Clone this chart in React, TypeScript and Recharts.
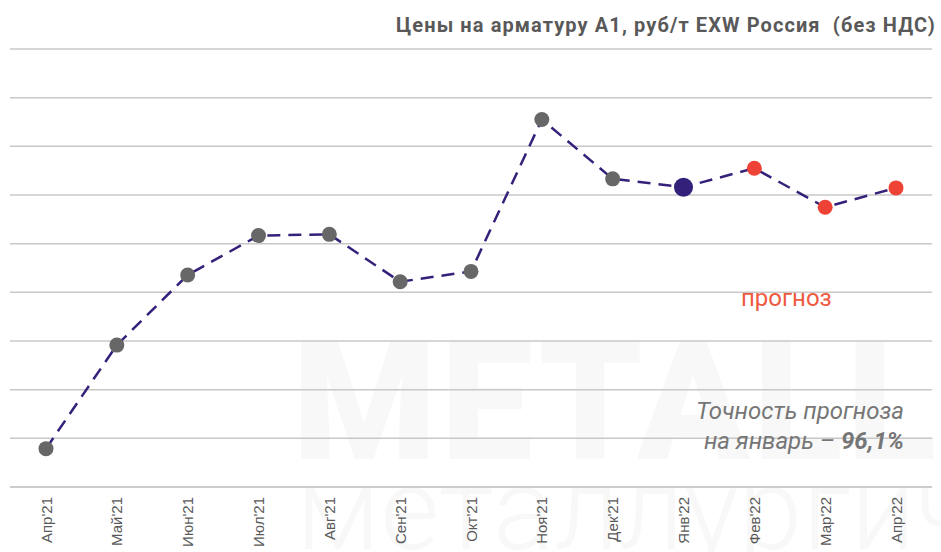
import { CartesianGrid, Line, LineChart, XAxis, YAxis } from 'recharts'

const months = [
  "Апр'21", "Май'21", "Июн'21", "Июл'21", "Авг'21", "Сен'21", "Окт'21",
  "Ноя'21", "Дек'21", "Янв'22", "Фев'22", "Мар'22", "Апр'22",
]
const prices = [48940, 59580, 66780, 70830, 70960, 66090, 67150, 82760, 76660, 75800, 77750, 73740, 75730]
// fact / current month / forecast
const kinds = ['fact', 'fact', 'fact', 'fact', 'fact', 'fact', 'fact', 'fact', 'fact', 'current', 'forecast', 'forecast', 'forecast']
const yTicks = [45000, 50000, 55000, 60000, 65000, 70000, 75000, 80000, 85000, 90000]

const data = months.map((m, i) => ({ month: m, price: prices[i], kind: kinds[i] }))

const textGray = '#595959'

function PriceDot(props: any) {
  const { cx, cy, payload } = props
  if (cx == null || cy == null) return null
  if (payload.kind === 'current') return <circle cx={cx} cy={cy} r={9.5} fill="#33207a" />
  const fill = payload.kind === 'forecast' ? '#ee4236' : '#676767'
  return <circle cx={cx} cy={cy} r={7.5} fill={fill} />
}

function MonthTick(props: any) {
  const { x, y, payload } = props
  return (
    <text
      transform={`translate(${x},${y + 2}) rotate(-90)`}
      textAnchor="end"
      dominantBaseline="central"
      fill={textGray}
      fontSize={15}
      fontFamily="'Liberation Sans', Arial, sans-serif"
    >
      {payload.value}
    </text>
  )
}

export default function App() {
  return (
    <div style={{ position: 'absolute', left: 0, top: 0, width: 941, height: 552, background: '#fff', overflow: 'hidden' }}>
      <div
        style={{
          position: 'absolute',
          left: 292,
          top: 318,
          fontFamily: 'Roboto, sans-serif',
          fontWeight: 900,
          fontSize: 165,
          lineHeight: '170px',
          color: '#f8f8f8',
          whiteSpace: 'nowrap',
          letterSpacing: 4,
        }}
      >
        METALLPLANT
      </div>
      <div
        style={{
          position: 'absolute',
          left: 296,
          top: 450,
          fontFamily: 'Roboto, sans-serif',
          fontWeight: 300,
          fontSize: 115,
          lineHeight: '120px',
          color: '#f8f8f8',
          whiteSpace: 'nowrap',
        }}
      >
        металлургическ
      </div>
      <div style={{ position: 'absolute', left: 0, top: 0 }}>
        <LineChart width={941} height={552} data={data} margin={{ top: 49, right: 9, left: 10, bottom: 0 }}>
          <CartesianGrid stroke="#c8c8c8" strokeWidth={1.5} vertical={false} />
          <XAxis
            dataKey="month"
            height={65}
            padding={{ left: 36, right: 36 }}
            axisLine={{ stroke: '#c8c8c8', strokeWidth: 1.5 }}
            tickLine={false}
            interval={0}
            tick={<MonthTick />}
          />
          <YAxis hide domain={[45000, 90000]} ticks={yTicks} />
          <Line
            type="linear"
            dataKey="price"
            stroke="#35207a"
            strokeWidth={2.5}
            strokeDasharray="13 8"
            dot={<PriceDot />}
            activeDot={false}
            isAnimationActive={false}
          />
        </LineChart>
      </div>
      <div
        style={{
          position: 'absolute',
          right: 5,
          top: 13,
          fontFamily: 'Roboto, sans-serif',
          fontWeight: 700,
          fontSize: 20,
          letterSpacing: 1.1,
          color: textGray,
          whiteSpace: 'pre',
        }}
      >
        {'Цены на арматуру А1, руб/т EXW Россия  (без НДС)'}
      </div>
      <div
        style={{
          position: 'absolute',
          left: 741,
          top: 283,
          fontFamily: 'Roboto, sans-serif',
          fontSize: 24,
          lineHeight: '30px',
          color: '#ee5a3f',
        }}
      >
        прогноз
      </div>
      <div
        style={{
          position: 'absolute',
          right: 37,
          top: 396,
          textAlign: 'right',
          fontFamily: 'Roboto, sans-serif',
          fontStyle: 'italic',
          fontSize: 24,
          lineHeight: '30px',
          color: '#767676',
        }}
      >
        Точность прогноза
        <br />
        на январь – <b>96,1%</b>
      </div>
    </div>
  )
}
